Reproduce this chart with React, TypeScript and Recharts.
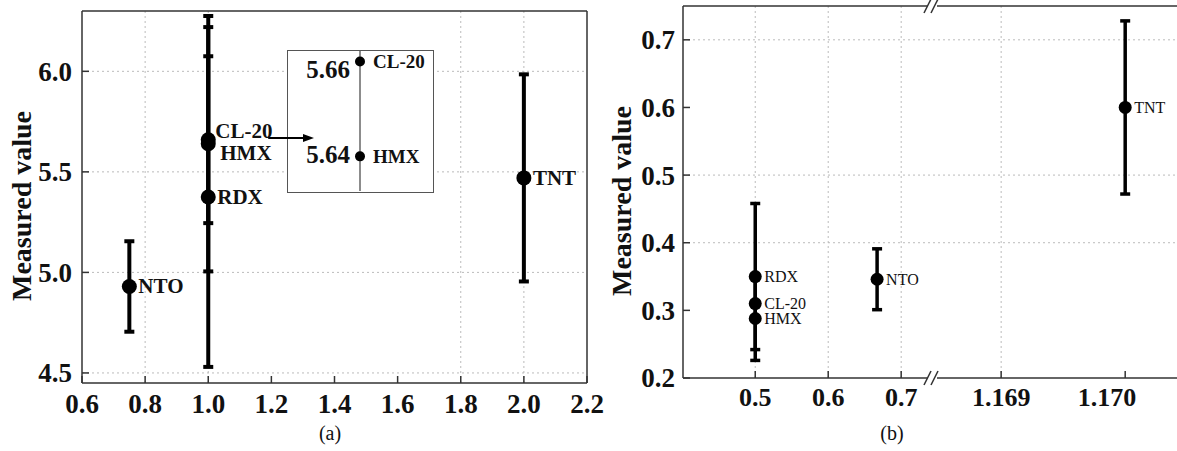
import React from "react";
import {
  CartesianGrid,
  ErrorBar,
  ReferenceDot,
  ReferenceLine,
  Scatter,
  ScatterChart,
  XAxis,
  YAxis,
} from "recharts";

const SERIF = '"Liberation Serif", "Times New Roman", serif';
const INK = "#111";
const FRAME = "#333";

// panel (a)
const aNames = ["NTO", "CL-20", "HMX", "RDX", "TNT"];
const aX = [0.75, 1.0, 1.0, 1.0, 2.0];
const aY = [4.93, 5.66, 5.64, 5.375, 5.47];
const aErr = [0.225, 0.415, 0.635, 0.845, 0.515];
const aXTicks = [0.6, 0.8, 1.0, 1.2, 1.4, 1.6, 1.8, 2.0, 2.2];
const aYTicks = [4.5, 5.0, 5.5, 6.0];

// inset of panel (a)
const insetNames = ["CL-20", "HMX"];
const insetY = [5.66, 5.64];

// panel (b), x axis is broken between 0.7 and 1.169
const bNames = ["RDX", "CL-20", "HMX", "NTO", "TNT"];
const bX = [0.5, 0.5, 0.5, 0.667, 1.17];
const bY = [0.35, 0.31, 0.288, 0.346, 0.6];
const bErr = [0.108, 0.003, 0.062, 0.045, 0.128];
const bXTicks = [0.5, 0.6, 0.7, 1.169, 1.17];
const bXTickLabels = ["0.5", "0.6", "0.7", "1.169", "1.170"];
const bYTicks = [0.2, 0.3, 0.4, 0.5, 0.6, 0.7];

// maps a real x value onto the broken axis
const brokenX = (v: number) => (v <= 0.7 ? v : 0.837 + (v - 1.169) * 170);

const aData = aNames.map((name, i) => ({ name, x: aX[i], y: aY[i], err: aErr[i] }));
const insetData = insetNames.map((name, i) => ({ name, x: 1, y: insetY[i] }));
const bData = bNames.map((name, i) => ({ name, x: brokenX(bX[i]), y: bY[i], err: bErr[i] }));

const aNudge: Record<string, [number, number]> = {
  "CL-20": [7, -9],
  HMX: [12, 9],
};

function makeDot(r: number, fontSize: number, weight: string, nudge: Record<string, [number, number]>) {
  return (p: any) => {
    const [dx, dy] = nudge[p.payload.name] ?? [9, 0];
    return (
      <g>
        <circle cx={p.cx} cy={p.cy} r={r} fill="#000" />
        <text
          x={p.cx + dx}
          y={p.cy + dy}
          dominantBaseline="central"
          fontSize={fontSize}
          fontWeight={weight}
          fontFamily={SERIF}
          fill={INK}
        >
          {p.payload.name}
        </text>
      </g>
    );
  };
}

const insetValueDy: Record<string, number> = { "CL-20": 8, HMX: -2 };

const insetDot = (p: any) => (
  <g>
    <circle cx={p.cx} cy={p.cy} r={5} fill="#000" />
    <text x={p.cx + 13} y={p.cy} dominantBaseline="central" fontSize={19} fontWeight="bold" fontFamily={SERIF} fill={INK}>
      {p.payload.name}
    </text>
    <text
      x={p.cx - 10}
      y={p.cy + (insetValueDy[p.payload.name] ?? 0)}
      textAnchor="end"
      dominantBaseline="central"
      fontSize={25}
      fontWeight="bold"
      fontFamily={SERIF}
      fill={INK}
    >
      {p.payload.y.toFixed(2)}
    </text>
  </g>
);

const renderArrow = (p: any) => (
  <g>
    <line x1={p.x1} y1={p.y1} x2={p.x2 - 8} y2={p.y2} stroke="#000" strokeWidth={2} />
    <polygon points={`${p.x2},${p.y2} ${p.x2 - 11},${p.y2 - 4} ${p.x2 - 11},${p.y2 + 4}`} fill="#000" />
  </g>
);

const renderBreak = (p: any) => (
  <g>
    <rect x={p.cx - 6} y={p.cy - 3} width={9} height={6} fill="#fff" />
    <line x1={p.cx - 10} y1={p.cy + 7} x2={p.cx - 3} y2={p.cy - 7} stroke={FRAME} strokeWidth={1.5} />
    <line x1={p.cx - 3} y1={p.cy + 7} x2={p.cx + 4} y2={p.cy - 7} stroke={FRAME} strokeWidth={1.5} />
  </g>
);

function xTick(fontSize: number, fmt: (v: number, i: number) => string) {
  return (p: any) => (
    <text
      x={p.x}
      y={p.y}
      dy="0.71em"
      textAnchor="middle"
      fontSize={fontSize}
      fontWeight="bold"
      fontFamily={SERIF}
      fill={INK}
    >
      {fmt(p.payload.value, p.index)}
    </text>
  );
}

function yTick(fontSize: number) {
  return (p: any) => (
    <text
      x={p.x}
      y={p.y}
      dy="0.35em"
      textAnchor="end"
      fontSize={fontSize}
      fontWeight="bold"
      fontFamily={SERIF}
      fill={INK}
    >
      {Number(p.payload.value).toFixed(1)}
    </text>
  );
}

const axisLine = { stroke: FRAME, strokeWidth: 1.5 };

const titleStyle = (left: number, top: number): React.CSSProperties => ({
  position: "absolute",
  left,
  top,
  transform: "translate(-50%, -50%) rotate(-90deg)",
  whiteSpace: "nowrap",
  fontSize: 28,
  fontWeight: "bold",
  color: INK,
});

const captionStyle = (left: number): React.CSSProperties => ({
  position: "absolute",
  left,
  top: 433,
  transform: "translate(-50%, -50%)",
  fontSize: 20,
  color: INK,
});

export default function App() {
  return (
    <div
      style={{
        position: "absolute",
        left: 0,
        top: 0,
        width: 1177,
        height: 451,
        background: "#fff",
        fontFamily: SERIF,
        overflow: "hidden",
      }}
    >
      <div style={{ position: "absolute", left: 0, top: 0 }}>
        <ScatterChart width={620} height={451} margin={{ top: 11, right: 33, bottom: 28, left: 22 }}>
          <CartesianGrid
            stroke="#bbb"
            strokeDasharray="2 3"
            verticalValues={[0.8, 1.0, 1.8, 2.0]}
            horizontalValues={aYTicks}
          />
          <XAxis
            type="number"
            dataKey="x"
            domain={[0.6, 2.2]}
            ticks={aXTicks}
            allowDataOverflow
            height={40}
            tickSize={-7}
            tickMargin={18}
            tickLine={axisLine}
            axisLine={axisLine}
            tick={xTick(27, (v) => v.toFixed(1))}
          />
          <YAxis
            type="number"
            dataKey="y"
            domain={[4.45, 6.3]}
            ticks={aYTicks}
            allowDataOverflow
            width={60}
            tickSize={-7}
            tickMargin={17}
            tickLine={axisLine}
            axisLine={axisLine}
            tick={yTick(27)}
          />
          <ReferenceLine y={6.3} stroke={FRAME} strokeWidth={1.5} />
          <ReferenceLine x={2.2} stroke={FRAME} strokeWidth={1.5} />
          <Scatter data={aData} isAnimationActive={false} shape={makeDot(7.5, 21, "bold", aNudge)}>
            <ErrorBar dataKey="err" direction="y" width={5} strokeWidth={4} stroke="#000" isAnimationActive={false} />
          </Scatter>
        </ScatterChart>
      </div>

      <div
        style={{
          position: "absolute",
          left: 287,
          top: 50,
          width: 147,
          height: 143,
          background: "#fff",
          border: "1.5px solid #555",
          boxSizing: "border-box",
        }}
      >
        <ScatterChart width={144} height={140} margin={{ top: 0, right: 0, bottom: 0, left: 0 }}>
          <XAxis type="number" dataKey="x" domain={[0, 2]} hide />
          <YAxis type="number" dataKey="y" domain={[5.6327, 5.6622]} allowDataOverflow hide />
          <ReferenceLine x={1} stroke="#666" strokeWidth={1.5} />
          <Scatter data={insetData} isAnimationActive={false} shape={insetDot} />
        </ScatterChart>
      </div>

      {/* arrow pointing into the inset, drawn above it in panel (a) coordinates */}
      <div style={{ position: "absolute", left: 0, top: 0, pointerEvents: "none" }}>
        <ScatterChart width={620} height={451} margin={{ top: 11, right: 33, bottom: 68, left: 82 }}>
          <XAxis type="number" dataKey="x" domain={[0.6, 2.2]} allowDataOverflow hide />
          <YAxis type="number" dataKey="y" domain={[4.45, 6.3]} allowDataOverflow hide />
          <ReferenceLine
            segment={[
              { x: 1.19, y: 5.668 },
              { x: 1.335, y: 5.668 },
            ]}
            shape={renderArrow}
          />
          <Scatter data={[]} isAnimationActive={false} />
        </ScatterChart>
      </div>

      <div style={{ position: "absolute", left: 600, top: 0 }}>
        <ScatterChart width={577} height={451} margin={{ top: 6, right: 0, bottom: 33, left: 23 }}>
          <CartesianGrid
            stroke="#bbb"
            strokeDasharray="2 3"
            verticalValues={[0.5, 0.6, 0.7, brokenX(1.169)]}
            horizontalValues={[0.4, 0.5, 0.7]}
          />
          <XAxis
            type="number"
            dataKey="x"
            domain={[0.401, 1.078]}
            ticks={bXTicks.map(brokenX)}
            allowDataOverflow
            height={40}
            tickSize={-7}
            tickMargin={17}
            tickLine={axisLine}
            axisLine={axisLine}
            tick={xTick(26, (_v, i) => bXTickLabels[i])}
          />
          <YAxis
            type="number"
            dataKey="y"
            domain={[0.2, 0.75]}
            ticks={bYTicks}
            allowDataOverflow
            width={60}
            tickSize={-7}
            tickMargin={15}
            tickLine={axisLine}
            axisLine={axisLine}
            tick={yTick(27)}
          />
          <ReferenceLine y={0.75} stroke={FRAME} strokeWidth={1.5} />
          <ReferenceDot x={0.745} y={0.75} r={1} ifOverflow="visible" shape={renderBreak} />
          <ReferenceDot x={0.745} y={0.2} r={1} ifOverflow="visible" shape={renderBreak} />
          <Scatter data={bData} isAnimationActive={false} shape={makeDot(6.5, 16, "normal", {})}>
            <ErrorBar dataKey="err" direction="y" width={5} strokeWidth={3.5} stroke="#000" isAnimationActive={false} />
          </Scatter>
        </ScatterChart>
      </div>

      <div style={titleStyle(22, 206)}>Measured value</div>
      <div style={titleStyle(622, 201)}>Measured value</div>
      <div style={captionStyle(330)}>(a)</div>
      <div style={captionStyle(892)}>(b)</div>
    </div>
  );
}
